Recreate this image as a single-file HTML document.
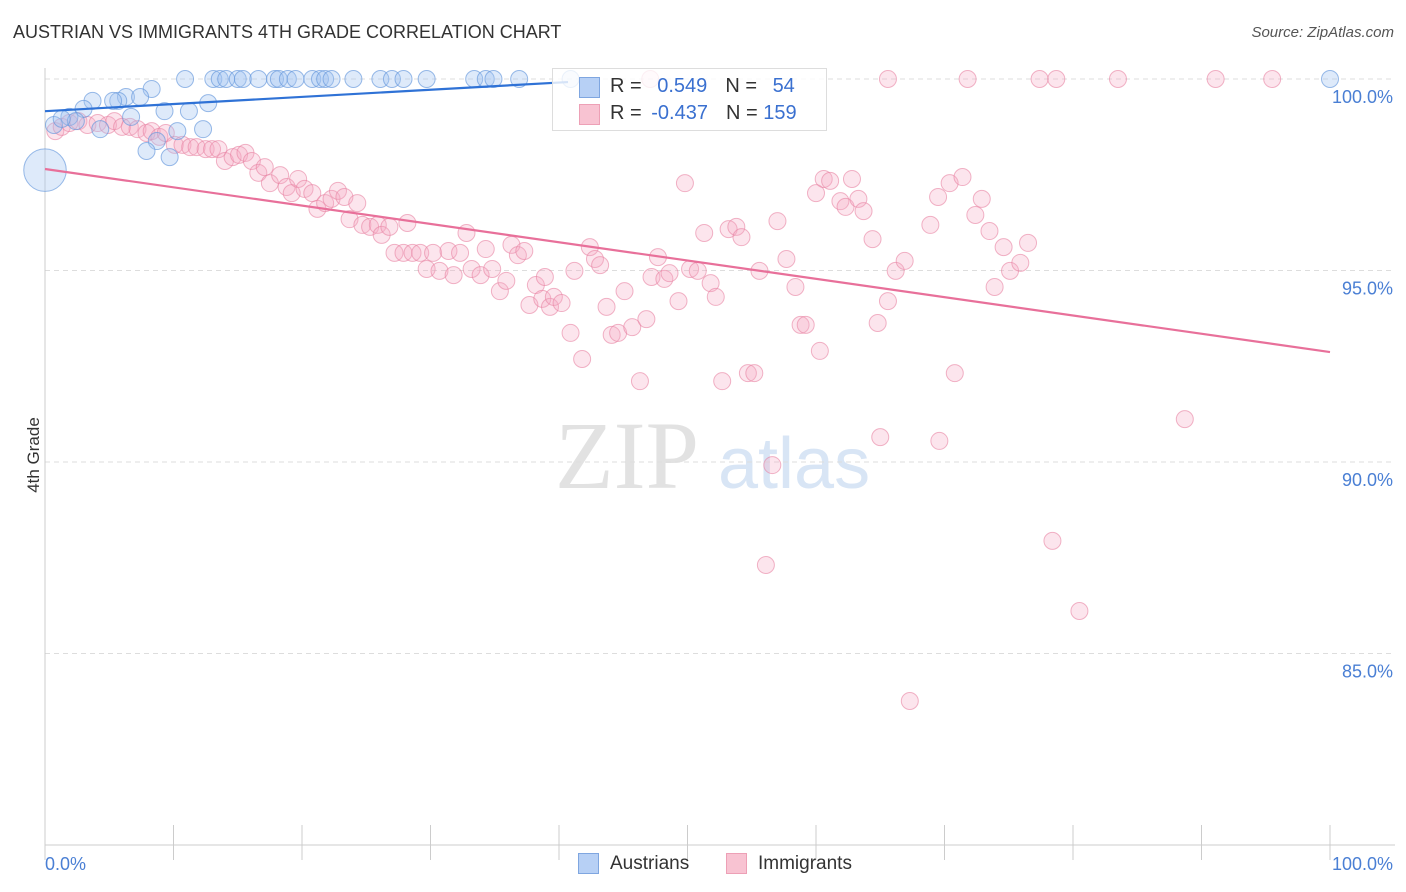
<!DOCTYPE html>
<html><head><meta charset="utf-8"><style>
body{margin:0;background:#fff;font-family:"Liberation Sans",sans-serif;}
#wrap{position:relative;width:1406px;height:892px;overflow:hidden;}
.t{position:absolute;white-space:nowrap;}
</style></head><body>
<div id="wrap">
<div class="t" style="left:13px;top:22px;font-size:18px;color:#333;">AUSTRIAN VS IMMIGRANTS 4TH GRADE CORRELATION CHART</div>
<div class="t" style="right:12px;top:24px;font-size:15px;color:#555;font-style:italic;">Source: ZipAtlas.com</div>
<div class="t" style="left:-4px;top:445px;font-size:17px;color:#333;transform:rotate(-90deg);">4th Grade</div>
<svg id="svg" width="1406" height="892" style="position:absolute;left:0;top:0"></svg>
<div style="position:absolute;left:552px;top:68px;width:273px;height:61px;border:1px solid #ddd;background:rgba(255,255,255,0.8);font-size:20px;">
 <div style="position:absolute;left:26px;top:8px;width:19px;height:19px;background:#b7d0f5;border:1px solid #7fa6e0;"></div>
 <div class="t" style="left:57px;top:6px;color:#333;">R = <span style="color:#3a70d0;margin-left:10px">0.549</span><span style="color:#333;margin-left:18px">N = </span><span style="color:#3a70d0;margin-left:10px">54</span></div>
 <div style="position:absolute;left:26px;top:35px;width:19px;height:19px;background:#f8c3d2;border:1px solid #eda0b6;"></div>
 <div class="t" style="left:57px;top:33px;color:#333;">R = <span style="color:#3a70d0;margin-left:4px">-0.437</span><span style="color:#333;margin-left:18px">N = </span><span style="color:#3a70d0">159</span></div>
</div>
<div style="position:absolute;left:578px;top:853px;">
 <div style="position:absolute;left:0;top:0;width:19px;height:19px;background:#b7d0f5;border:1px solid #7fa6e0;"></div>
 <div class="t" style="left:32px;top:0px;font-size:19px;color:#333;">Austrians</div></div>
<div style="position:absolute;left:726px;top:853px;">
 <div style="position:absolute;left:0;top:0;width:19px;height:19px;background:#f8c3d2;border:1px solid #eda0b6;"></div>
 <div class="t" style="left:32px;top:0px;font-size:19px;color:#333;">Immigrants</div></div>
</div>
<script>
const yTicks=[100,95,90,85];
const yTickLabels=["100.0%","95.0%","90.0%","85.0%"];
const xTickLabels=["0.0%","100.0%"];
const blueX=[10.9,13.1,13.6,14.1,15.0,15.4,16.6,17.9,18.2,18.9,19.5,20.8,21.4,21.8,22.3,24.0,26.1,27.0,27.9,29.7,33.4,34.3,34.9,36.9,40.9,100,8.3,6.3,7.4,5.7,3.7,12.7,3.0,9.3,11.2,1.9,0.7,2.4,6.7,4.3,8.7,10.3,12.3,7.9,9.7,1.3,5.3,0];
const blueY=[100,100,100,100,100,100,100,100,100,100,100,100,100,100,100,100,100,100,100,100,100,100,100,100,100,100,99.74,99.53,99.53,99.43,99.43,99.37,99.22,99.16,99.16,99.01,98.80,98.90,99.01,98.69,98.38,98.64,98.69,98.12,97.96,98.96,99.43,97.62];
const blueSize=[1,1,1,1,1,1,1,1,1,1,1,1,1,1,1,1,1,1,1,1,1,1,1,1,1,1,1,1,1,1,1,1,1,1,1,1,1,1,1,1,1,1,1,1,1,1,1,2.5];
const pinkX=[0.8,1.3,1.9,2.6,3.3,4.1,4.9,5.4,6.0,6.6,7.2,7.9,8.3,8.9,9.4,10.1,10.7,11.3,11.8,12.5,13.0,13.5,14.0,14.6,15.1,15.6,16.1,16.6,17.1,17.5,18.3,18.8,19.2,19.7,20.2,20.8,21.2,21.8,22.3,22.8,23.3,23.7,24.3,24.7,25.3,25.9,26.2,26.8,27.2,27.9,28.2,28.6,29.2,29.7,30.2,30.7,31.4,31.8,32.3,32.8,33.2,33.9,34.3,34.8,35.4,35.9,36.3,36.8,37.3,37.7,38.2,38.7,38.9,39.3,39.6,40.2,40.9,41.2,41.8,42.4,42.8,43.2,43.7,44.1,44.6,45.1,45.7,46.3,46.8,47.2,47.7,48.2,48.6,49.3,49.8,50.2,50.8,51.3,51.8,52.2,52.7,53.2,53.8,54.2,54.7,55.2,55.6,56.1,56.6,57.0,57.7,58.4,58.8,59.2,60.3,60.0,60.6,61.1,61.9,62.3,62.8,63.3,63.7,64.4,64.8,65.0,65.6,66.2,66.9,67.3,68.9,69.5,69.6,70.4,70.8,71.4,72.4,72.9,73.5,73.9,74.6,75.1,75.9,76.5,78.4,80.5,88.7,47.1,65.6,71.8,77.4,78.7,83.5,91.1,95.5];
const pinkY=[98.64,98.75,98.85,98.90,98.80,98.85,98.80,98.90,98.75,98.75,98.69,98.59,98.64,98.49,98.59,98.28,98.28,98.22,98.22,98.17,98.17,98.17,97.86,97.96,98.02,98.07,97.86,97.55,97.70,97.28,97.49,97.18,97.02,97.39,97.13,97.02,96.61,96.76,96.87,97.08,96.92,96.34,96.76,96.19,96.14,96.19,95.93,96.14,95.46,95.46,96.24,95.46,95.46,95.04,95.46,94.99,95.51,94.88,95.46,95.98,95.04,94.88,95.56,95.04,94.46,94.73,95.67,95.40,95.51,94.10,94.62,94.26,94.83,94.05,94.31,94.15,93.37,94.99,92.69,95.61,95.30,95.14,94.05,93.32,93.37,94.46,93.52,92.11,93.73,94.83,95.35,94.78,94.93,94.20,97.28,95.04,94.99,95.98,94.67,94.31,92.11,96.08,96.14,95.87,92.32,92.32,94.99,87.31,89.92,96.29,95.30,94.57,93.58,93.58,92.90,97.02,97.39,97.34,96.81,96.66,97.39,96.87,96.55,95.82,93.63,90.65,94.20,94.99,95.25,83.76,96.19,96.92,90.55,97.28,92.32,97.44,96.45,96.87,96.03,94.57,95.61,94.99,95.20,95.72,87.94,86.11,91.12,100,100,100,100,100,100,100,100];
const blueTrend=[0,99.16,40.7,99.92];
const pinkTrend=[0,97.65,100,92.87];
const NS="http://www.w3.org/2000/svg";
const svg=document.getElementById('svg');
const X=v=>45+v*12.85, Y=v=>79+(100-v)*38.3;
function mk(t,a){const e=document.createElementNS(NS,t);for(const k in a)e.setAttribute(k,a[k]);svg.appendChild(e);return e;}
// watermark
let w=mk('text',{x:555,y:488,'font-size':96,'font-family':'Liberation Serif,serif',fill:'#e2e2e2'});w.textContent='ZIP';

let w2=mk('text',{x:718,y:488,'font-size':72,'font-family':'Liberation Sans,sans-serif',fill:'#d8e5f5'});w2.textContent='atlas';

yTicks.forEach((v,i)=>{
 let g=mk('line',{x1:45,x2:1395,y1:Y(v),y2:Y(v),stroke:'#ddd','stroke-dasharray':'5,4'});
 
 let t=mk('text',{x:1393,y:Y(v)+24,'text-anchor':'end','font-size':18,fill:'#4a7fd4','font-family':'Liberation Sans,sans-serif'});t.textContent=yTickLabels[i];
 
});
let ax=mk('line',{x1:45,x2:45,y1:68,y2:845,stroke:'#ccc'});
let bx=mk('line',{x1:45,x2:1395,y1:845,y2:845,stroke:'#ccc'});
for(let i=0;i<=10;i++){let tk=mk('line',{x1:X(i*10),x2:X(i*10),y1:825,y2:860,stroke:'#ccc'});}
[[0,'start',45],[1,'end',1393]].forEach(([i,a,x])=>{let t=mk('text',{x:x,y:870,'text-anchor':a,'font-size':18,fill:'#4a7fd4','font-family':'Liberation Sans,sans-serif'});t.textContent=xTickLabels[i];
 });
pinkX.forEach((v,i)=>{let c=mk('circle',{cx:X(v),cy:Y(pinkY[i]),r:8.5,fill:'rgba(244,170,195,0.3)',stroke:'rgba(232,130,162,0.6)','stroke-width':1});
 });
blueX.forEach((v,i)=>{let c=mk('circle',{cx:X(v),cy:Y(blueY[i]),r:8.5*blueSize[i],fill:'rgba(160,195,240,0.35)',stroke:'rgba(100,150,220,0.65)','stroke-width':1});
 });
let l1=mk('line',{x1:X(blueTrend[0]),y1:Y(blueTrend[1]),x2:X(blueTrend[2]),y2:Y(blueTrend[3]),stroke:'#2f72d6','stroke-width':2.2});

let l2=mk('line',{x1:X(pinkTrend[0]),y1:Y(pinkTrend[1]),x2:X(pinkTrend[2]),y2:Y(pinkTrend[3]),stroke:'#e8709a','stroke-width':2.2});

</script>
</body></html>
